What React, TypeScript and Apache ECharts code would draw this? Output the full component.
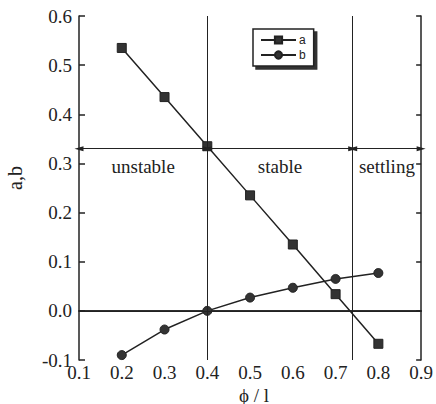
import React, { useEffect, useRef } from "react";
import * as echarts from "echarts";

const phiValues = [0.2, 0.3, 0.4, 0.5, 0.6, 0.7, 0.8];
const aValues = [0.535, 0.435, 0.335, 0.235, 0.135, 0.034, -0.067];
const bValues = [-0.09, -0.038, 0.0, 0.027, 0.047, 0.065, 0.077];
const seriesNames = ["a", "b"];
const regionNames = ["unstable", "stable", "settling"];
const regionBounds = [0.1, 0.4, 0.74, 0.9];
const arrowLevel = 0.33;
const xTicks = { min: 0.1, max: 0.9, step: 0.1 };
const yTicks = { min: -0.1, max: 0.6, step: 0.1 };
const xTitle = "ϕ / l";
const yTitle = "a,b";

const INK = "#222";
const SERIF = "Liberation Serif";

export default function App() {
  const ref = useRef<HTMLDivElement>(null);
  useEffect(() => {
    if (!ref.current) return;
    const chart = echarts.init(ref.current, null, { renderer: "svg" });
    const pairs = (xs: number[], ys: number[]) => xs.map((x, i) => [x, ys[i]]);
    const arrows = regionNames.map((name, i) => [
      { coord: [regionBounds[i], arrowLevel], name },
      { coord: [regionBounds[i + 1], arrowLevel] },
    ]);
    const axisLine = { show: true, lineStyle: { color: INK, width: 1.5 } };
    const tickRich = {
      t: { fontFamily: SERIF, fontSize: 19, color: INK },
    };
    const fmt = (v: number) => `{t|${v.toFixed(1)}}`;
    chart.setOption({
      animation: false,
      backgroundColor: "#fff",
      textStyle: { fontFamily: SERIF, color: INK },
      grid: { left: 79, right: 11, top: 16, bottom: 44, containLabel: false },
      xAxis: [
        {
          type: "value",
          min: xTicks.min,
          max: xTicks.max,
          interval: xTicks.step,
          axisLine,
          axisTick: { show: false },
          splitLine: { show: false },
          axisLabel: {
            formatter: fmt,
            rich: tickRich,
            fontFamily: SERIF,
            fontSize: 19,
            color: INK,
            margin: 3,
          },
        },
        {
          type: "value",
          position: "top",
          min: xTicks.min,
          max: xTicks.max,
          interval: xTicks.step,
          axisLine,
          axisTick: { show: false },
          axisLabel: { show: false },
          splitLine: { show: false },
        },
      ],
      yAxis: [
        {
          type: "value",
          min: yTicks.min,
          max: yTicks.max,
          interval: yTicks.step,
          axisLine,
          axisTick: { show: true, inside: true, length: 6, lineStyle: { color: INK, width: 1.5 } },
          splitLine: { show: false },
          axisLabel: {
            formatter: fmt,
            rich: tickRich,
            fontFamily: SERIF,
            fontSize: 19,
            color: INK,
            margin: 7,
          },
        },
        {
          type: "value",
          position: "right",
          min: yTicks.min,
          max: yTicks.max,
          interval: yTicks.step,
          axisLine,
          axisTick: { show: true, inside: true, length: 5, lineStyle: { color: INK, width: 1.5 } },
          axisLabel: { show: false },
          splitLine: { show: false },
        },
      ],
      legend: {
        orient: "vertical",
        left: 253,
        top: 29,
        padding: [5, 8, 5, 7],
        itemWidth: 35,
        itemHeight: 9,
        itemGap: 3,
        borderColor: INK,
        borderWidth: 1.5,
        backgroundColor: "#fff",
        shadowColor: "#333",
        shadowBlur: 0,
        shadowOffsetX: 3,
        shadowOffsetY: 3,
        textStyle: { fontFamily: "Liberation Sans", fontSize: 12, color: INK, padding: [0, 0, 0, -2] },
        data: seriesNames,
      },
      series: [
        {
          name: seriesNames[0],
          type: "line",
          data: pairs(phiValues, aValues),
          symbol: "rect",
          symbolSize: 9,
          lineStyle: { color: INK, width: 1.5 },
          itemStyle: { color: "#333", borderColor: INK, borderWidth: 1 },
          markLine: {
            silent: true,
            symbol: "none",
            label: { show: false },
            lineStyle: { color: INK, width: 1, type: "solid" },
            data: [
              { xAxis: regionBounds[1] },
              { xAxis: regionBounds[2] },
              { yAxis: 0 },
            ],
          },
        },
        {
          name: seriesNames[1],
          type: "line",
          data: pairs(phiValues, bValues),
          symbol: "circle",
          symbolSize: 9,
          lineStyle: { color: INK, width: 1.5 },
          itemStyle: { color: "#333", borderColor: INK, borderWidth: 1 },
          markLine: {
            silent: true,
            symbol: ["triangle", "triangle"],
            symbolSize: [5, 9],
            lineStyle: { color: INK, width: 1.2, type: "solid" },
            label: {
              show: true,
              position: "insideMiddleBottom",
              formatter: "{b}",
              distance: 8,
              fontFamily: SERIF,
              fontSize: 19,
              color: INK,
            },
            data: arrows,
          },
        },
      ],
      graphic: [
        {
          type: "text",
          x: 15,
          y: 178,
          rotation: Math.PI / 2,
          style: {
            text: yTitle,
            fontFamily: SERIF,
            fontSize: 20,
            fill: INK,
            align: "center",
            verticalAlign: "middle",
          },
        },
        {
          type: "text",
          x: 254,
          y: 395,
          style: {
            text: xTitle,
            fontFamily: SERIF,
            fontSize: 19,
            fill: INK,
            align: "center",
            verticalAlign: "middle",
          },
        },
      ],
    });
    return () => chart.dispose();
  }, []);
  return (
    <div
      ref={ref}
      style={{ position: "fixed", left: 0, top: 0, width: 436, height: 404, background: "#fff" }}
    />
  );
}
